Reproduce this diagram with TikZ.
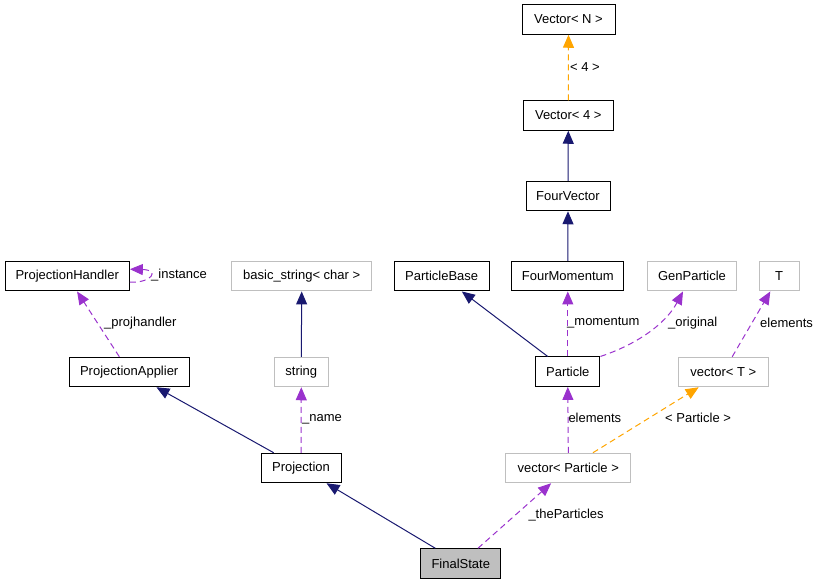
\documentclass[tikz,border=0pt]{standalone}
\usepackage{fontspec}
\setmainfont{Liberation Sans}
\usetikzlibrary{arrows.meta,calc}
\definecolor{navyc}{HTML}{191970}
\definecolor{purp}{HTML}{9A32CD}
\definecolor{orng}{HTML}{FFA500}
\definecolor{grayb}{HTML}{BFBFBF}
\tikzset{
  cls/.style={draw=black, line width=1pt, minimum height=29.5pt, inner sep=0pt, font=\fontsize{13}{15}\selectfont, text=black},
  ext/.style={cls, draw=grayb},
  cur/.style={cls, fill=grayb},
  inh/.style={draw=navyc, line width=1pt, -{Triangle[length=13pt,width=11pt]}},
  use/.style={draw=purp, line width=1pt, dash pattern=on 6pt off 4pt, -{Triangle[length=13pt,width=11pt]}},
  tpl/.style={draw=orng, line width=1pt, dash pattern=on 6pt off 4pt, -{Triangle[length=13pt,width=11pt]}},
  lbl/.style={anchor=west, inner sep=0pt, font=\fontsize{13}{15}\selectfont, text=black}
}
\begin{document}
\begin{tikzpicture}[x=1pt,y=-1pt]
\useasboundingbox (0,0) rectangle (819,584);
% nodes
\node[cls, minimum width=93pt] (vN) at (568.5,19.5) {Vector< N >};
\node[cls, minimum width=90pt] (v4) at (568.3,115.5) {Vector< 4 >};
\node[cls, minimum width=84pt] (fv) at (568,196) {FourVector};
\node[cls, minimum width=124.3pt] (ph) at (67.2,276.2) {ProjectionHandler};
\node[ext, minimum width=140pt] (bs) at (301.7,276.2) {basic\_string< char >};
\node[cls, minimum width=120.3pt] (pa) at (129.2,372) {ProjectionApplier};
\node[ext, minimum width=54pt] (str) at (301.3,372) {string};
\node[cls, minimum width=95.3pt] (pb) at (441.7,276.2) {ParticleBase};
\node[cls, minimum width=112.3pt] (fm) at (567.8,276.2) {FourMomentum};
\node[ext, minimum width=89.4pt] (gp) at (692,276.2) {GenParticle};
\node[ext, minimum width=39.7pt] (T) at (779.2,276.2) {T};
\node[cls, minimum width=64.3pt] (part) at (567.8,371.7) {Particle};
\node[ext, minimum width=90pt] (vT) at (723.3,372) {vector< T >};
\node[cls, minimum width=80pt] (proj) at (301,468) {Projection};
\node[ext, minimum width=124.7pt] (vP) at (568.3,468) {vector< Particle >};
\node[cur, minimum width=79.7pt] (fs) at (460.8,563.5) {FinalState};
% edges
\draw[tpl] (v4.north) -- (vN.south);
\node[lbl] (l4) at (570,67) {< 4 >};
\draw[inh] (fv.north) -- (v4.south);
\draw[inh] (fm.north) -- (fv.south);
\draw[inh] (part) -- (pb);
\draw[use] (part.north) -- (fm.south);
\node[lbl] (lmom) at (567,322.7) {\_momentum};
\draw[use] (part.north east) .. controls (635,345) and (665,325) .. ([xshift=-9pt]gp.south);
\node[lbl] (lorig) at (668,322.7) {\_original};
\draw[use] (vT) -- (T);
\node[lbl] (lel1) at (760,322.7) {elements};
\draw[use] (vP.north) -- (part.south);
\node[lbl] (lel2) at (568.3,418.3) {elements};
\draw[tpl] (vP) -- (vT);
\node[lbl] (lpart) at (665,418.3) {< Particle >};
\draw[use] ([yshift=-6pt]ph.east) .. controls (152,283) and (160,270) .. ([yshift=7pt]ph.east);
\node[lbl] (linst) at (151,275) {\_instance};
\draw[use] (pa) -- (ph);
\node[lbl] (lproj) at (104,322.7) {\_projhandler};
\draw[inh] (str.north) -- (bs.south);
\draw[inh] (proj) -- (pa);
\draw[use] (proj.north) -- (str.south);
\node[lbl] (lname) at (302,419) {\_name};
\draw[inh] (fs) -- (proj);
\draw[use] (fs) -- (vP);
\node[lbl] (lthe) at (528.3,515) {\_theParticles};
\end{tikzpicture}
\end{document}
